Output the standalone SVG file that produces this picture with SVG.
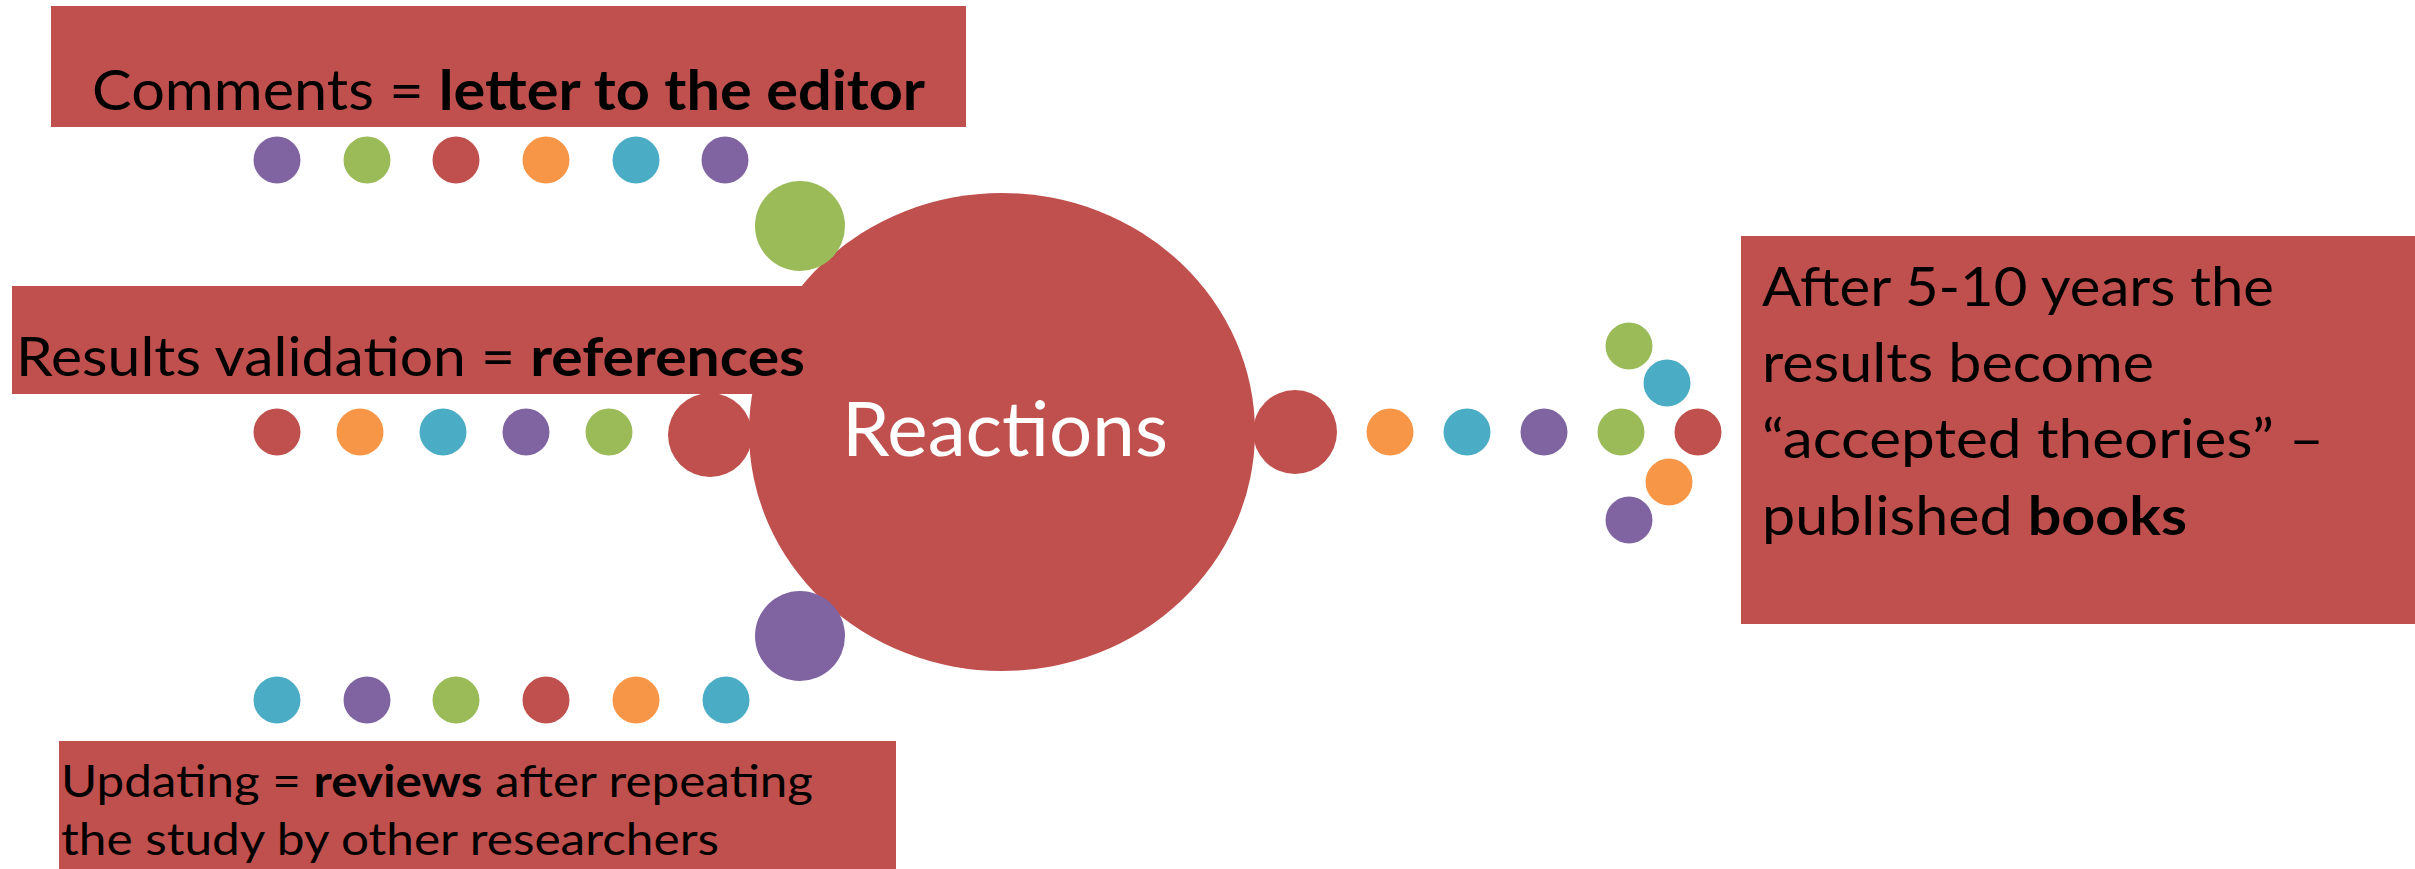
<svg xmlns="http://www.w3.org/2000/svg" width="2415" height="869" viewBox="0 0 2415 869">
<style>
.red{fill:#C0504D}.grn{fill:#9BBB59}.pur{fill:#8064A2}.org{fill:#F79646}.cyn{fill:#4BACC6}
text{font-family:Lato,"Open Sans","Liberation Sans",sans-serif;fill:#000}
.b{font-weight:bold}
</style>
<rect width="2415" height="869" fill="#fff"/>
<g id="dots">
<circle class="pur" cx="277" cy="160" r="23.5"/><circle class="grn" cx="367" cy="160" r="23.5"/><circle class="red" cx="456" cy="160" r="23.5"/><circle class="org" cx="546" cy="160" r="23.5"/><circle class="cyn" cx="636" cy="160" r="23.5"/><circle class="pur" cx="725" cy="160" r="23.5"/>
<circle class="red" cx="277" cy="432" r="23.5"/><circle class="org" cx="360" cy="432" r="23.5"/><circle class="cyn" cx="443" cy="432" r="23.5"/><circle class="pur" cx="526" cy="432" r="23.5"/><circle class="grn" cx="609" cy="432" r="23.5"/>
<circle class="cyn" cx="277" cy="700" r="23.5"/><circle class="pur" cx="367" cy="700" r="23.5"/><circle class="grn" cx="456" cy="700" r="23.5"/><circle class="red" cx="546" cy="700" r="23.5"/><circle class="org" cx="636" cy="700" r="23.5"/><circle class="cyn" cx="726" cy="700" r="23.5"/>
<circle class="org" cx="1390" cy="432" r="23.5"/><circle class="cyn" cx="1467" cy="432" r="23.5"/><circle class="pur" cx="1544" cy="432" r="23.5"/><circle class="grn" cx="1621" cy="432" r="23.5"/><circle class="red" cx="1698" cy="432" r="23.5"/>
<circle class="grn" cx="1629" cy="346" r="23.5"/><circle class="cyn" cx="1667" cy="383" r="23.5"/><circle class="org" cx="1669" cy="482" r="23.5"/><circle class="pur" cx="1629" cy="520" r="23.5"/>
</g>
<g id="reactions">
<circle class="red" cx="710" cy="435" r="42"/>
<circle class="red" cx="1295" cy="432" r="42"/>
<ellipse class="red" cx="1002" cy="432" rx="253" ry="239"/>
<circle class="grn" cx="800" cy="226" r="45"/>
<circle class="pur" cx="800" cy="636" r="45"/>
<text x="842" y="456" font-size="75" style="fill:#fff" textLength="326" lengthAdjust="spacingAndGlyphs">Reactions</text>
</g>
<g id="comments">
<rect class="red" x="51" y="6" width="915" height="121"/>
<text x="92" y="110" font-size="56" textLength="833" lengthAdjust="spacingAndGlyphs">Comments = <tspan class="b">letter to the editor</tspan></text>
</g>
<g id="validation">
<rect class="red" x="12" y="286" width="792" height="108"/>
<text x="16" y="376" font-size="54" textLength="789" lengthAdjust="spacingAndGlyphs">Results validation = <tspan class="b">references</tspan></text>
</g>
<g id="updating">
<rect class="red" x="59" y="741" width="837" height="128"/>
<text x="61" y="797" font-size="43.5" textLength="752" lengthAdjust="spacingAndGlyphs">Updating = <tspan class="b">reviews</tspan> after repeating</text>
<text x="61" y="855" font-size="43.5" textLength="658" lengthAdjust="spacingAndGlyphs">the study by other researchers</text>
</g>
<g id="books">
<rect class="red" x="1741" y="236" width="674" height="388"/>
<text x="1762" y="306" font-size="54" textLength="512" lengthAdjust="spacingAndGlyphs">After 5-10 years the</text>
<text x="1762" y="382" font-size="54" textLength="392" lengthAdjust="spacingAndGlyphs">results become</text>
<text x="1762" y="458" font-size="54" textLength="562" lengthAdjust="spacingAndGlyphs">“accepted theories” –</text>
<text x="1762" y="535" font-size="54" textLength="425" lengthAdjust="spacingAndGlyphs">published <tspan class="b">books</tspan></text>
</g>
<g id="connectors"></g>
</svg>
